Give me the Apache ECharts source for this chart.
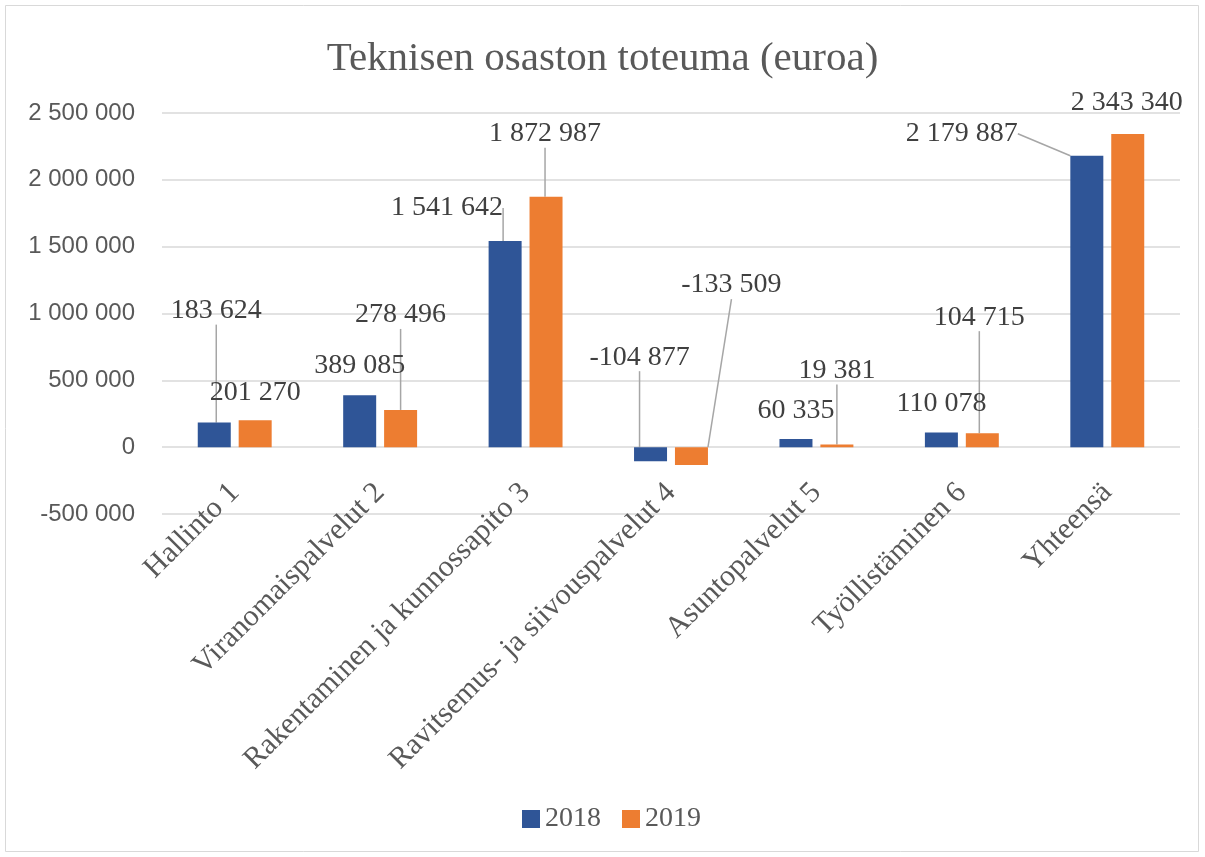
<!DOCTYPE html>
<html><head><meta charset="utf-8">
<script src="https://cdn.jsdelivr.net/npm/echarts@6/dist/echarts.min.js"></script>
<style>html,body{margin:0;padding:0;background:#fff}#c{width:1205px;height:857px}</style>
</head><body><div id="c"></div>
<script>
const categories = ['Hallinto 1','Viranomaispalvelut 2','Rakentaminen ja kunnossapito 3','Ravitsemus- ja siivouspalvelut 4','Asuntopalvelut 5','Työllistäminen 6','Yhteensä'];
const seriesNames = ['2018','2019'];
const values2018 = [183624, 389085, 1541642, -104877, 60335, 110078, 2179887];
const values2019 = [201270, 278496, 1872987, -133509, 19381, 104715, 2343340];
const yTicks = {min: -500000, max: 2500000, interval: 500000};

// label placement (offsets from bar value end, in px) — styling only
const labelOffsets = [
  {dx:[2,0,-58,-11,0,0,-125], dy:[-112,-30,-33,-104,-28,-29,-22], line:[1,0,1,1,0,0,1]},
  {dx:[0,0,-1,40,0,-3,-1], dy:[-28,-95,-63,-180,-74,-116,-31], line:[0,1,1,1,1,1,0]}
];
const allValues = [values2018, values2019];
const colors = ['#2F5597','#ED7D31'];

function fmt(v){
  const s = Math.abs(Math.round(v)).toString().replace(/\B(?=(\d{3})+(?!\d))/g,' ');
  return (v<0?'-':'')+s;
}

const serif = '"Liberation Serif","DejaVu Serif",serif';
const sans = '"Liberation Sans","Noto Sans",sans-serif';

function makeSeries(si){
  const vals = allValues[si];
  const off = labelOffsets[si];
  return {
    name: seriesNames[si],
    type: 'bar',
    barWidth: 33,
    barGap: '24%',
    itemStyle: {color: colors[si]},
    data: vals.map((v,i)=>({value:v, labelLine:{show: !!off.line[i]}})),
    label: {
      show: true, position: 'top',
      formatter: p => fmt(p.value),
      fontFamily: serif, fontSize: 28, color: '#404040'
    },
    labelLine: {show: true, lineStyle: {color: '#A6A6A6', width: 1.5}},
    labelLayout: function(p){
      const i = p.dataIndex;
      const r = p.rect;
      const v = vals[i];
      const yEnd = v >= 0 ? r.y : r.y + r.height;
      return {x: r.x + r.width/2 + off.dx[i], y: yEnd + off.dy[i], align: 'center', verticalAlign: 'middle'};
    }
  };
}

const chart = echarts.init(document.getElementById('c'), null, {renderer:'canvas'});
chart.setOption({
  backgroundColor: '#fff',
  animation: false,
  title: {
    text: 'Teknisen osaston toteuma (euroa)', left: 'center', top: 34,
    textStyle: {fontFamily: serif, fontSize: 41, fontWeight: 'normal', color: '#595959'}
  },
  graphic: [{type:'rect', shape:{x:5.5,y:5.5,width:1193,height:846}, style:{fill:'none', stroke:'#D9D9D9', lineWidth:1}, silent:true}],
  legend: {
    data: seriesNames, top: 800, left: 517, itemWidth: 18, itemHeight: 18, itemGap: 21, icon: 'rect',
    textStyle: {fontFamily: serif, fontSize: 28, color: '#595959'}
  },
  grid: {left: 162, right: 25, top: 113, bottom: 343},
  xAxis: {
    type: 'category', data: categories,
    axisLine: {onZero: false, show: false},
    axisTick: {show: false},
    axisLabel: {interval: 0, rotate: 45, margin: -26, fontFamily: serif, fontSize: 30, color: '#595959'}
  },
  yAxis: {
    type: 'value', min: yTicks.min, max: yTicks.max, interval: yTicks.interval,
    axisLine: {show: false}, axisTick: {show: false},
    splitLine: {lineStyle: {color: '#D9D9D9', width: 1.5}},
    axisLabel: {margin: 27, fontFamily: sans, fontSize: 24, color: '#595959', formatter: v => fmt(v)}
  },
  series: [makeSeries(0), makeSeries(1)]
});
</script></body></html>
